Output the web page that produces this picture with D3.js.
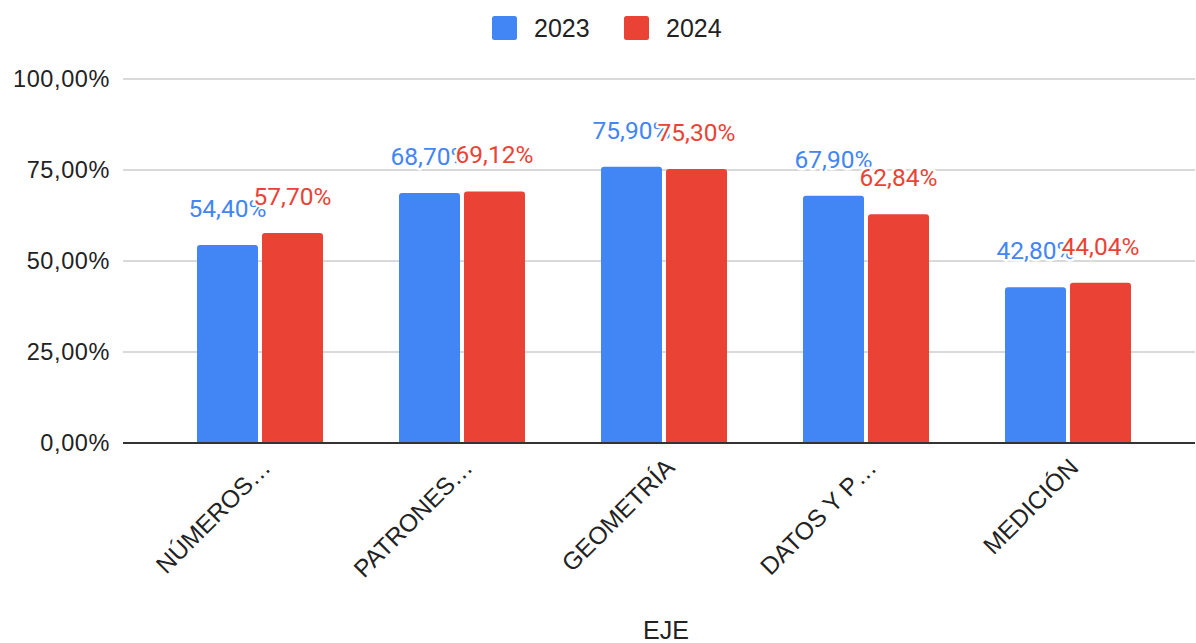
<!DOCTYPE html>
<html><head><meta charset="utf-8">
<script src="https://cdn.jsdelivr.net/npm/d3@7/dist/d3.min.js"></script>
<style>body{margin:0;background:#fff}svg{display:block}</style>
</head><body>
<svg id="c" width="1196" height="643"></svg>
<script>
const categories = ["NÚMEROS…", "PATRONES…", "GEOMETRÍA", "DATOS Y P…", "MEDICIÓN"];
const seriesNames = ["2023", "2024"];
const values2023 = [0.5440, 0.6870, 0.7590, 0.6790, 0.4280];
const values2024 = [0.5770, 0.6912, 0.7530, 0.6284, 0.4404];
const yTicks = [0, 0.25, 0.5, 0.75, 1];
const colors = ["#4285F4", "#EA4335"];
const xTitle = "EJE";

const seriesValues = [values2023, values2024];
const svg = d3.select("#c");
const loc = d3.formatLocale({decimal: ",", thousands: ".", grouping: [3], currency: ["", "€"]});
const fmt = loc.format(".2%");

const plotL = 123, plotR = 1195;
const y = d3.scaleLinear().domain([0, 1]).range([443, 79]);
const x0 = d3.scaleBand().domain(categories).range([159, 1169]);
const x1 = d3.scaleBand().domain(seriesNames).range([38, 164]).paddingInner(4/65);

// gridlines
svg.append("g").selectAll("line").data(yTicks.filter(t => t > 0)).join("line")
  .attr("x1", plotL).attr("x2", plotR)
  .attr("y1", d => y(d)).attr("y2", d => y(d))
  .attr("stroke", "#cccccc").attr("stroke-width", 1.5);

// y tick labels
svg.append("g").selectAll("text").data(yTicks).join("text")
  .attr("x", 110).attr("y", d => y(d)).attr("dy", "0.36em")
  .attr("text-anchor", "end")
  .attr("font-family", "Liberation Sans, Arial, sans-serif")
  .attr("font-size", 23.5).attr("letter-spacing", 0.6).attr("fill", "#222")
  .text(d => fmt(d));

// bars
function barPath(x, yTop, w, h, r) {
  r = Math.min(r, h, w / 2);
  return `M${x},${yTop + h}V${yTop + r}Q${x},${yTop} ${x + r},${yTop}H${x + w - r}Q${x + w},${yTop} ${x + w},${yTop + r}V${yTop + h}Z`;
}
seriesNames.forEach((s, si) => {
  svg.append("g").selectAll("path").data(categories).join("path")
    .attr("fill", colors[si])
    .attr("d", (c, i) => {
      const v = seriesValues[si][i];
      return barPath(x0(c) + x1(s), y(v), x1.bandwidth(), y(0) - y(v), 3);
    });
});

// baseline
svg.append("line").attr("x1", plotL).attr("x2", plotR)
  .attr("y1", y(0)).attr("y2", y(0))
  .attr("stroke", "#333").attr("stroke-width", 2);

// data labels
seriesNames.forEach((s, si) => {
  svg.append("g").selectAll("text").data(categories).join("text")
    .attr("x", c => x0(c) + x1(s) + x1.bandwidth() / 2)
    .attr("y", (c, i) => y(seriesValues[si][i]) - 28)
    .attr("text-anchor", "middle")
    .attr("font-family", "Roboto, sans-serif")
    .attr("font-size", 24.5)
    .attr("fill", colors[si])
    .attr("stroke", "#fff").attr("stroke-width", 5).attr("stroke-linejoin", "round")
    .attr("paint-order", "stroke")
    .text((c, i) => fmt(seriesValues[si][i]));
});

// x labels
svg.append("g").selectAll("text").data(categories).join("text")
  .attr("transform", c => `translate(${x0(c) + x0.bandwidth() / 2 + 6},${463}) rotate(-45)`)
  .attr("text-anchor", "end")
  .attr("dy", "0.35em")
  .attr("font-family", "Liberation Sans, Arial, sans-serif")
  .attr("font-size", 24.5).attr("fill", "#222")
  .text(c => c);

// x title
svg.append("text").attr("x", 666).attr("y", 639)
  .attr("text-anchor", "middle")
  .attr("font-family", "Liberation Sans, Arial, sans-serif")
  .attr("font-size", 25).attr("fill", "#222").text(xTitle);

// legend
const legX = [492, 624];
const lg = svg.append("g").selectAll("g").data(seriesNames).join("g")
  .attr("transform", (d, i) => `translate(${legX[i]},16)`);
lg.append("rect").attr("width", 25).attr("height", 24).attr("rx", 2.5)
  .attr("fill", (d, i) => colors[i]);
lg.append("text").attr("x", 42).attr("y", 12).attr("dy", "0.36em")
  .attr("font-family", "Liberation Sans, Arial, sans-serif")
  .attr("font-size", 25).attr("fill", "#222").text(d => d);
</script>
</body></html>
